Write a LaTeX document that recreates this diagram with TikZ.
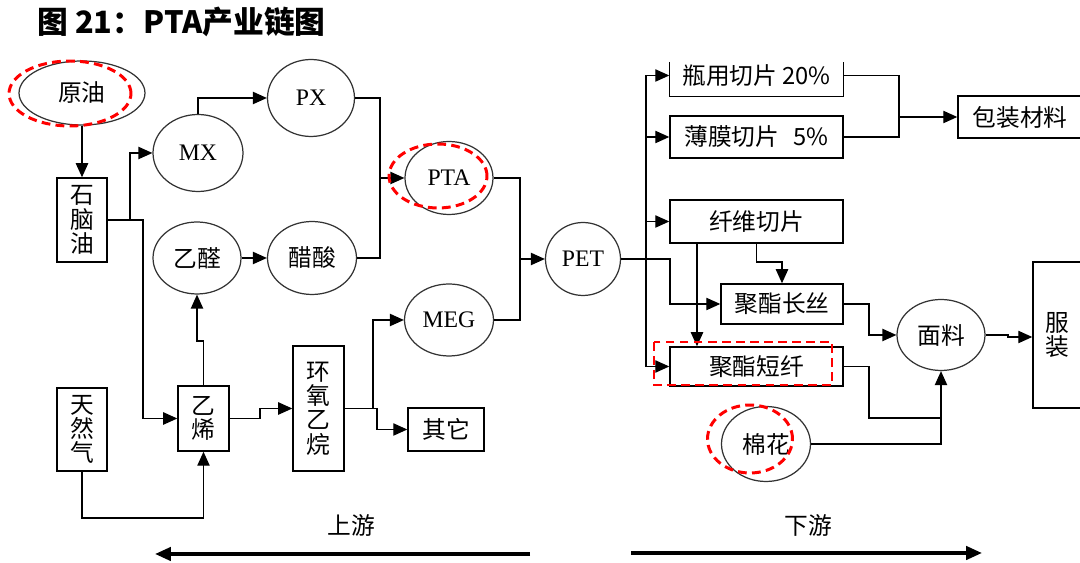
\documentclass[tikz,border=0pt]{standalone}
\usepackage{fontspec}
\setmainfont{Liberation Serif}
\newfontfamily\cjk{Noto Sans CJK SC}
\usetikzlibrary{shapes.geometric,arrows.meta}
\begin{document}
\begin{tikzpicture}[x=0.02cm,y=-0.02cm,
  ell/.style={draw=black!80, line width=0.7pt, ellipse, inner sep=0pt, font=\cjk\fontsize{13.5}{13.8}\selectfont},
  lat/.style={font=\fontsize{13.5}{14}\selectfont},
  box/.style={draw, line width=0.8pt, rectangle, inner sep=0pt, align=center, font=\cjk\fontsize{13.5}{13.8}\selectfont},
  lbl/.style={inner sep=0pt, font=\cjk\fontsize{13.5}{13.8}\selectfont},
  arr/.style={line width=0.8pt, -{Triangle[length=8pt,width=7pt]}},
  ln/.style={line width=0.8pt},
  hl/.style={draw=red, line width=1.7pt, dash pattern=on 5pt off 3pt},
  big/.style={line width=2pt, -{Triangle[length=9pt,width=7.5pt]}}
]
\useasboundingbox (0,0) rectangle (1080,563);

% title
\node[anchor=west, inner sep=0pt, font=\cjk\bfseries\fontsize{17.5}{18}\selectfont] (title) at (37,22) {图 21：PTA产业链图};

% ellipses
\node[ell, minimum width=2.52cm, minimum height=1.28cm] (yuanyou) at (82,93) {原油};
\node[ell, lat, minimum width=1.80cm, minimum height=1.54cm] (mx) at (198,153) {MX};
\node[ell, lat, minimum width=1.74cm, minimum height=1.54cm] (px) at (311,98) {PX};
\node[ell, lat, minimum width=1.76cm, minimum height=1.46cm] (pta) at (449,178) {PTA};
\node[ell, minimum width=1.76cm, minimum height=1.44cm] (yiquan) at (197,258) {乙醛};
\node[ell, minimum width=1.78cm, minimum height=1.46cm] (cusuan) at (312,258) {醋酸};
\node[ell, lat, minimum width=1.78cm, minimum height=1.44cm] (meg) at (449,320) {MEG};
\node[ell, lat, minimum width=1.50cm, minimum height=1.46cm] (pet) at (583,259) {PET};
\node[ell, minimum width=1.76cm, minimum height=1.42cm] (mianliao) at (941,335) {面料};
\node[ell, minimum width=1.78cm, minimum height=1.50cm] (mianhua) at (766,444) {棉花};

% boxes
\node[box, minimum width=1.00cm, minimum height=1.68cm] (shinao) at (82,220) {石\\脑\\油};
\node[box, minimum width=1.00cm, minimum height=1.66cm] (tianran) at (82,429.5) {天\\然\\气};
\node[box, minimum width=1.02cm, minimum height=1.30cm] (yixi) at (203.5,418.5) {乙\\烯};
\node[box, minimum width=1.02cm, minimum height=2.50cm] (huanyang) at (318.5,408.5) {环\\氧\\乙\\烷};
\node[box, minimum width=1.52cm, minimum height=0.86cm] (qita) at (446,429.5) {其它};
\node[box, draw=none, minimum width=3.46cm, minimum height=0.82cm] (bottle) at (756.5,75.5) {瓶用切片 20\%};
\draw[ln] (bottle.west |- 0,62) -- (bottle.south west) -- (bottle.south east) -- (bottle.east |- 0,62);
\node[box, minimum width=3.46cm, minimum height=0.84cm] (bomo) at (756.5,137) {薄膜切片\hspace{0.6em}5\%};
\node[box, minimum width=2.48cm, minimum height=0.84cm] (baozhuang) at (1020,117) {包装材料};
\node[box, minimum width=3.46cm, minimum height=0.86cm] (xianwei) at (756.5,221.5) {纤维切片};
\node[box, minimum width=2.44cm, minimum height=0.80cm] (changsi) at (782,304) {聚酯长丝};
\node[box, minimum width=3.46cm, minimum height=0.78cm] (duanxian) at (756.5,366.5) {聚酯短纤};
\node[box, minimum width=0.98cm, minimum height=2.92cm] (fuzhuang) at (1057.5,335) {服\\装};

% upstream connectors
\draw[arr] (yuanyou.south) -- (shinao.north);
\draw[arr] (shinao.east) -- (130,220) |- (mx.west);
\draw[arr] (shinao.east) -- (143,220) |- (yixi.west);
\draw[arr] (mx.north) |- (px.west);
\coordinate (j1) at (380,178);
\draw[ln] (px.east) -| (j1);
\draw[ln] (cusuan.east) -| (j1);
\draw[arr] (j1) -- (pta.west);
\draw[arr] (yiquan.east) -- (cusuan.west);
\draw[arr] (yixi.north) -- (203.5,341) -- (197,341) -- (yiquan.south);
\draw[arr] (tianran.south) -- (82,518) -| (yixi.south);
\draw[arr] (yixi.east) -- (260,418.5) |- (huanyang.west);
\coordinate (j2) at (373,408.5);
\draw[arr] (huanyang.east) -- (j2) |- (meg.west);
\draw[arr] (j2) -- (377,408.5) |- (qita.west);
\coordinate (j3) at (520,259);
\draw[ln] (pta.east) -| (j3);
\draw[ln] (meg.east) -| (j3);
\draw[arr] (j3) -- (pet.west);

% downstream connectors
\coordinate (t) at (646,259);
\draw[ln] (pet.east) -- (t);
\draw[arr] (t) |- (bottle.west);
\draw[arr] (t) |- (bomo.west);
\draw[arr] (t) |- (xianwei.west);
\draw[arr] (t) |- (duanxian.west);
\draw[arr] (t) -- (670,259) |- (changsi.west);
\draw[arr] (697,0 |- xianwei.south) -- (697,0 |- duanxian.north);
\draw[arr] (xianwei.south) -- (756.5,262) -| (changsi.north);
\coordinate (j4) at (899,117);
\draw[ln] (bottle.east) -| (j4);
\draw[ln] (bomo.east) -| (j4);
\draw[arr] (j4) -- (baozhuang.west);
\draw[arr] (changsi.east) -- (869,304) |- (mianliao.west);
\draw[ln] (duanxian.east) -- (869,366.5) |- (941,418);
\draw[arr] (mianhua.east) -| (mianliao.south);
\draw[arr] (mianliao.east) -- (1008,335) -- (1008,337) -- (fuzhuang.west |- 0,337);

% highlights
\draw[hl] (70,93.5) ellipse [x radius=1.22cm, y radius=0.65cm];
\draw[hl] (438,176) ellipse [x radius=0.98cm, y radius=0.64cm];
\draw[hl] (750,439) ellipse [x radius=0.85cm, y radius=0.68cm];
\draw[hl] (654,342) rectangle (832,385);

% up / down stream
\node[lbl] (up) at (351,525) {上游};
\node[lbl] (down) at (808,525) {下游};
\coordinate (ua) at (530,554);
\coordinate (ub) at (155,554);
\coordinate (da) at (631,553);
\coordinate (db) at (982,553);
\draw[big] (ua) -- (ub);
\draw[big] (da) -- (db);
\end{tikzpicture}
\end{document}
